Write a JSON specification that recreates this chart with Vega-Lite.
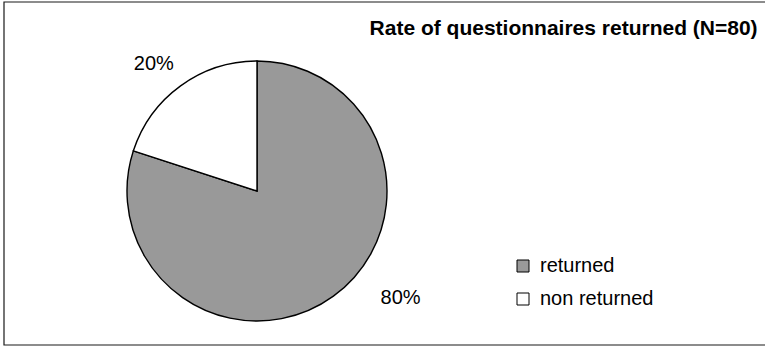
{
  "$schema": "https://vega.github.io/schema/vega-lite/v6.json",
  "autosize": "none",
  "padding": {"left": 4, "top": 2, "right": 0, "bottom": 1},
  "width": 761,
  "height": 343,
  "background": "white",
  "config": {
    "view": {"stroke": null},
    "font": "Liberation Sans"
  },
  "title": {
    "text": "Rate of questionnaires returned (N=80)",
    "orient": "top",
    "anchor": "end",
    "offset": -38,
    "dx": -12,
    "font": "Liberation Sans",
    "fontSize": 21,
    "fontWeight": "bold",
    "color": "black"
  },
  "data": {
    "values": [
      {"answer": "returned", "share": 0.8},
      {"answer": "non returned", "share": 0.2}
    ]
  },
  "layer": [
    {
      "data": {"values": [{"frame": "chart"}]},
      "mark": {"type": "rect", "fill": "transparent", "stroke": "#1a1a1a", "strokeWidth": 1.2, "x2Offset": 4},
      "encoding": {
        "x": {"value": 0},
        "x2": {"value": "width"},
        "y": {"value": 0},
        "y2": {"value": "height"}
      }
    },
    {
      "mark": {"type": "arc", "outerRadius": 130, "x": 253, "y": 189, "stroke": "black", "strokeWidth": 1.4},
      "encoding": {
        "theta": {"field": "share", "type": "quantitative", "stack": true},
        "order": {"field": "answer", "sort": "descending"},
        "color": {
          "field": "answer",
          "type": "nominal",
          "scale": {"domain": ["returned", "non returned"], "range": ["#999999", "#ffffff"]},
          "legend": {
            "orient": "none",
            "legendX": 509,
            "legendY": 254,
            "title": null,
            "padding": 0,
            "symbolType": "square",
            "symbolSize": 144,
            "symbolStrokeColor": "black",
            "symbolStrokeWidth": 1,
            "symbolOpacity": 1,
            "labelFont": "Liberation Sans",
            "labelFontSize": 20,
            "labelColor": "black",
            "labelOffset": 7,
            "rowPadding": 13
          }
        }
      }
    },
    {
      "mark": {"type": "text", "x": 253, "y": 189, "radius": 164, "thetaOffset": -0.052, "align": "center", "baseline": "middle", "fontSize": 20, "font": "Liberation Sans", "color": "black"},
      "encoding": {
        "theta": {"field": "share", "type": "quantitative", "stack": true},
        "order": {"field": "answer", "sort": "descending"},
        "text": {"condition": {"test": "datum.answer === 'non returned'", "field": "share", "format": ".0%"}, "value": ""}
      }
    },
    {
      "mark": {"type": "text", "x": 253, "y": 189, "radius": 179, "thetaOffset": -0.302, "align": "center", "baseline": "middle", "fontSize": 20, "font": "Liberation Sans", "color": "black"},
      "encoding": {
        "theta": {"field": "share", "type": "quantitative", "stack": true},
        "order": {"field": "answer", "sort": "descending"},
        "text": {"condition": {"test": "datum.answer === 'returned'", "field": "share", "format": ".0%"}, "value": ""}
      }
    }
  ]
}
